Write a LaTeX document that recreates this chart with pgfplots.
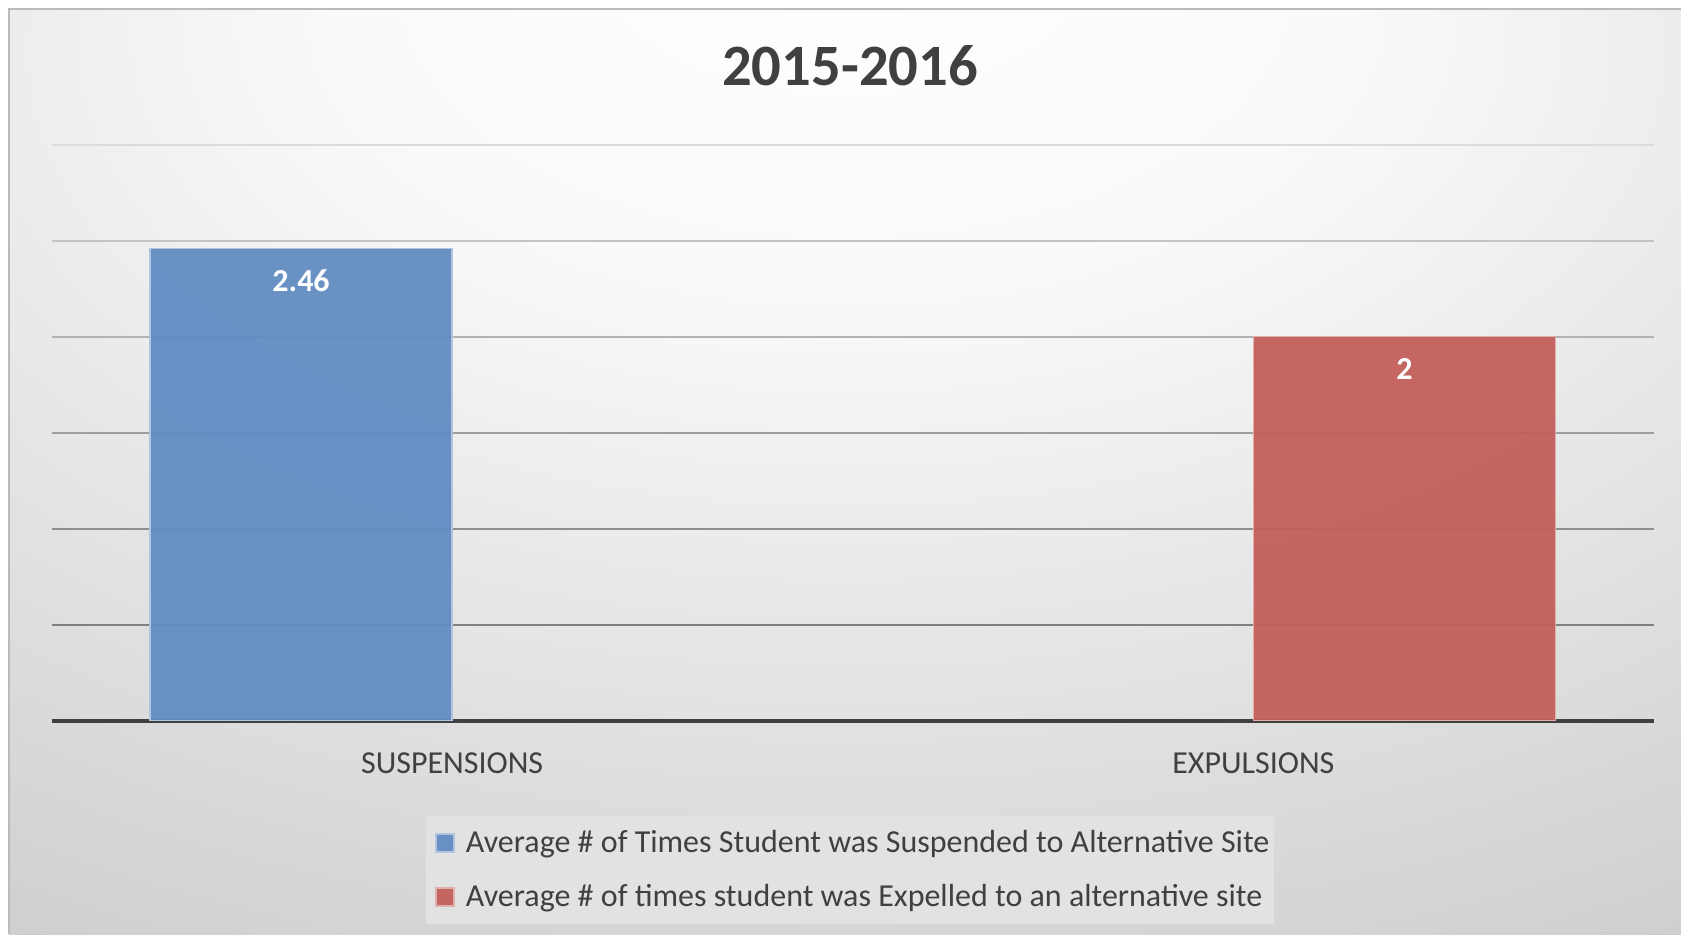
\documentclass[border=0pt]{standalone}
\usepackage{pgfplots}
\pgfplotsset{compat=1.18}
\usepackage{fontspec}
\setmainfont{Carlito}
\definecolor{txt}{HTML}{404040}
\definecolor{barblue}{HTML}{628CC2}
\definecolor{barred}{HTML}{C45F5C}
\definecolor{legbg}{HTML}{E2E2E2}
\pgfdeclareradialshading{bgshade}{\pgfpoint{0bp}{30bp}}{color(0bp)=(white); color(15bp)=(white!98!black); color(50bp)=(white!80!black); color(80bp)=(white!74!black); color(100bp)=(white!72!black)}
\begin{document}
\begin{tikzpicture}
\path[use as bounding box] (0,0) rectangle (840.5pt,467pt);
\shade[shading=bgshade] (4.5pt,0) rectangle (840.5pt,462.5pt);
\draw[white!73!black, line width=1pt] (4.5pt,0) -- (4.5pt,462.5pt) -- (840.5pt,462.5pt);
\node[font=\bfseries\fontsize{29.3}{35}\selectfont, text=txt] at (425pt,434pt) {2015-2016};
\begin{axis}[
  at={(25.75pt,106.75pt)}, anchor=south west,
  scale only axis, width=801.25pt, height=287.9pt,
  xmin=-0.5, xmax=1.5, ymin=0, ymax=3,
  axis lines*=left,
  x axis line style={-, draw=txt, line width=2pt},
  y axis line style={draw=none},
  ybar, bar width=0.377, bar shift=0pt,
  ytick=\empty,
  xtick={0,1}, xticklabels={SUSPENSIONS,EXPULSIONS},
  major tick length=0pt, tick style={draw=none},
  xticklabel style={font=\fontsize{16}{19}\selectfont, text=txt, yshift=-12.6pt},
  legend style={at={(0.4985,-0.2595)}, anchor=center, fill=legbg, draw=none,
    font=\fontsize{16}{19}\selectfont, text=txt, row sep=10.5pt,
    inner xsep=0.5pt, inner ysep=5.2pt},
  legend cell align=left,
  legend image code/.code={\path (-4pt,0pt); \fill[#1] (0pt,-4.5pt) rectangle (9pt,4.5pt); \path (12.5pt,0pt);},
  nodes near coords={\pgfmathprintnumber[assume math mode=true]{\pgfplotspointmeta}},
  every node near coord/.append style={anchor=center, yshift=-16pt, text=white, font=\bfseries\fontsize{16}{19}\selectfont, fill opacity=1, text opacity=1},
]
\draw[line width=1pt, white!86!black] (axis cs:-0.5,3) -- (axis cs:1.5,3);
\draw[line width=1pt, white!77!black] (axis cs:-0.5,2.5) -- (axis cs:1.5,2.5);
\draw[line width=1pt, white!70!black] (axis cs:-0.5,2) -- (axis cs:1.5,2);
\draw[line width=1pt, white!62!black] (axis cs:-0.5,1.5) -- (axis cs:1.5,1.5);
\draw[line width=1pt, white!56!black] (axis cs:-0.5,1) -- (axis cs:1.5,1);
\draw[line width=1pt, white!50!black] (axis cs:-0.5,0.5) -- (axis cs:1.5,0.5);
\addplot[fill=barblue, fill opacity=0.95, draw=barblue!50!white, line width=0.8pt] coordinates {(-0.1885,2.46)};
\addlegendentry{Average \# of Times Student was Suspended to Alternative Site}
\addplot[fill=barred, fill opacity=0.95, draw=barred!50!white, line width=0.8pt] coordinates {(1.1885,2)};
\addlegendentry{Average \# of times student was Expelled to an alternative site}
\end{axis}
\end{tikzpicture}
\end{document}
